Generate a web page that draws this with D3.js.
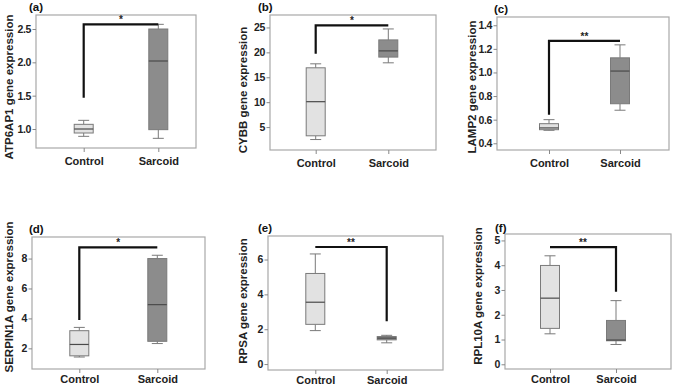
<!DOCTYPE html>
<html>
<head>
<meta charset="utf-8">
<script src="https://cdn.jsdelivr.net/npm/d3@7"></script>
<style>
  body { margin: 0; background: #fff; }
  svg { display: block; font-family: "Liberation Sans", Arial, sans-serif; }
  .axis path { display: none; }
  .axis line { stroke: #888; }
  .axis text { font-weight: bold; font-size: 11px; fill: #222; }
  .yaxis text { font-size: 10.5px; letter-spacing: -0.4px; }
</style>
</head>
<body>
<div id="chart"></div>
<script>
// groups on the x axis
const categories = ['Control', 'Sarcoid'];

// one entry per panel
const panelLetters = ['(a)', '(b)', '(c)', '(d)', '(e)', '(f)'];
const genes = ['ATP6AP1', 'CYBB', 'LAMP2', 'SERPIN1A', 'RPSA', 'RPL10A'];

// y domains and ticks
const yDomains = [[0.715, 2.71], [0.4, 27.5], [0.343, 1.47], [0.62, 9.44], [-0.34, 7.35], [-0.19, 5.26]];
const yTicks = [
  [1.0, 1.5, 2.0, 2.5],
  [5, 10, 15, 20, 25],
  [0.4, 0.6, 0.8, 1.0, 1.2, 1.4],
  [2, 4, 6, 8],
  [0, 2, 4, 6],
  [0, 1, 2, 3, 4, 5]
];
const yFormats = ['.1f', 'd', '.1f', 'd', 'd', 'd'];

// box stats [low whisker, q1, median, q3, high whisker]
const controlStats = [
  [0.89, 0.94, 1.0, 1.07, 1.13],
  [2.5, 3.25, 10.1, 16.9, 17.7],
  [0.51, 0.515, 0.53, 0.566, 0.6],
  [1.42, 1.5, 2.26, 3.18, 3.4],
  [1.92, 2.28, 3.55, 5.2, 6.32],
  [1.23, 1.45, 2.67, 3.99, 4.38]
];
const sarcoidStats = [
  [0.86, 0.99, 2.02, 2.5, 2.57],
  [17.9, 19.05, 20.3, 22.5, 24.7],
  [0.68, 0.735, 1.012, 1.124, 1.234],
  [2.32, 2.47, 4.92, 8.0, 8.22],
  [1.22, 1.39, 1.49, 1.58, 1.65],
  [0.8, 0.95, 0.98, 1.77, 2.57]
];

// significance bracket: level, drop end value, which group the drop is on
const bracketTop = [2.57, 25.4, 1.267, 8.75, 6.72, 4.73];
const bracketDrop = [1.47, 19.7, 0.642, 3.89, 2.46, 2.93];
const bracketSide = ['Control', 'Control', 'Control', 'Control', 'Sarcoid', 'Sarcoid'];
const stars = ['*', '*', '**', '*', '**', '**'];

// layout in page pixels: frames [left, top, right, bottom], group centres, labels
const frames = [
  [36, 15, 196, 148], [270, 15, 436, 150], [497, 17, 669, 150],
  [32, 237, 205, 369], [268, 236, 443, 370], [505, 234, 671, 369]
];
const groupX = [[83.7, 158.3], [315.7, 388.3], [549, 620], [79.3, 157.3], [315.3, 386.7], [550, 616]];
const titlePos = [[9, 87], [243, 90], [472, 87], [9, 297], [243, 301], [478, 296]];
const letterPos = [[29, 11], [258, 11], [494, 13], [29, 233], [258, 232], [495, 232]];

const W = 675, H = 387;
const svg = d3.select('#chart').append('svg').attr('width', W).attr('height', H);

const fills = { Control: '#e2e2e2', Sarcoid: '#8c8c8c' };
const boxW = 19, capW = 11;

genes.forEach((gene, i) => {
  const [x0, y0, x1, y1] = frames[i];
  const g = svg.append('g');

  const x = d3.scalePoint().domain(categories).range(groupX[i]);
  const y = d3.scaleLinear().domain(yDomains[i]).range([y1, y0]);

  // frame
  g.append('rect')
    .attr('x', x0).attr('y', y0)
    .attr('width', x1 - x0).attr('height', y1 - y0)
    .attr('fill', 'none').attr('stroke', '#a8a8a8').attr('stroke-width', 1.2);

  // axes
  g.append('g').attr('class', 'axis yaxis')
    .attr('transform', `translate(${x0},0)`)
    .call(d3.axisLeft(y).tickValues(yTicks[i]).tickFormat(d3.format(yFormats[i])).tickSize(3.5).tickPadding(1.5));

  g.append('g').attr('class', 'axis')
    .attr('transform', `translate(0,${y1})`)
    .call(d3.axisBottom(x).tickSize(4).tickPadding(i < 3 ? 5 : 2))
    .selectAll('text').attr('font-size', '11.5px').attr('fill', '#111');

  // boxes
  const stats = [controlStats[i], sarcoidStats[i]];
  categories.forEach((c, j) => {
    const [lo, q1, med, q3, hi] = stats[j];
    const cx = x(c);
    const bg = g.append('g').attr('stroke', '#7a7a7a').attr('stroke-width', 1);
    bg.append('line').attr('x1', cx).attr('x2', cx).attr('y1', y(hi)).attr('y2', y(q3));
    bg.append('line').attr('x1', cx).attr('x2', cx).attr('y1', y(q1)).attr('y2', y(lo));
    bg.append('line').attr('x1', cx - capW / 2).attr('x2', cx + capW / 2).attr('y1', y(hi)).attr('y2', y(hi));
    bg.append('line').attr('x1', cx - capW / 2).attr('x2', cx + capW / 2).attr('y1', y(lo)).attr('y2', y(lo));
    bg.append('rect')
      .attr('x', cx - boxW / 2).attr('y', y(q3))
      .attr('width', boxW).attr('height', Math.max(1, y(q1) - y(q3)))
      .attr('fill', fills[c]);
    bg.append('line')
      .attr('x1', cx - boxW / 2).attr('x2', cx + boxW / 2)
      .attr('y1', y(med)).attr('y2', y(med))
      .attr('stroke', '#4a4a4a').attr('stroke-width', 1.2);
  });

  // significance bracket
  const xa = x('Control'), xb = x('Sarcoid');
  const d = bracketSide[i] === 'Control'
    ? `M${xa},${y(bracketDrop[i])}V${y(bracketTop[i])}H${xb}`
    : `M${xa},${y(bracketTop[i])}H${xb}V${y(bracketDrop[i])}`;
  g.append('path')
    .attr('d', d)
    .attr('fill', 'none').attr('stroke', '#111').attr('stroke-width', 2.2);
  g.append('text')
    .attr('x', (xa + xb) / 2).attr('y', y(bracketTop[i]) - 1)
    .attr('text-anchor', 'middle').attr('font-size', '10px').attr('font-weight', 'bold').attr('fill', '#222')
    .text(stars[i]);

  // panel letter
  g.append('text')
    .attr('x', letterPos[i][0]).attr('y', letterPos[i][1])
    .attr('font-size', '11.5px').attr('font-weight', 'bold').attr('fill', '#111')
    .text(panelLetters[i]);

  // y title
  g.append('text')
    .attr('transform', `translate(${titlePos[i][0]},${titlePos[i][1]}) rotate(-90)`)
    .attr('text-anchor', 'middle').attr('dy', '0.35em')
    .attr('font-size', '11.5px').attr('font-weight', 'bold').attr('fill', '#222')
    .text(`${gene} gene expression`);
});
</script>
</body>
</html>
